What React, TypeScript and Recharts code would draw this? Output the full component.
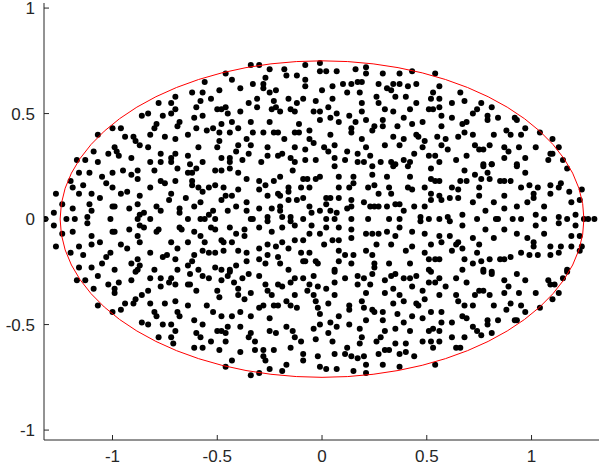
import { ScatterChart, Scatter, XAxis, YAxis, ReferenceDot } from "recharts";

// point positions in hundredths of an axis unit, grouped by region of the plot
const topFarLeft = [
  [-70,58],[-72,55],[-78,55],[-70,52],[-83,50],[-86,49],[-76,49],[-72,50],[-68,46],[-69,44],[-79,45],[-80,43],[-100,43],[-96,43],[-107,40],[-94,39],[-90,39],[-89,37],[-82,40],[-75,39],[-70,38],[-64,40],[-87,35],[-83,34],[-99,34],[-98,32],[-102,31],[-97,30],[-109,32],[-117,28],[-113,28],[-107,27],[-91,29],[-82,27],[-77,31],[-77,27],[-72,29],[-70,31],[-72,27],[-64,30],[-63,26],
];
const topCenterLeft = [
  [-34,73],[-30,73],[-25,71],[-18,71],[-17,68],[-12,68],[-8,73],[-1,74],[-1,70],[-8,66],[-8,63],[0,61],[-46,69],[-43,66],[-56,65],[-62,60],[-57,60],[-49,61],[-39,62],[-33,64],[-28,64],[-28,62],[-27,67],[-25,60],[-22,61],[-16,57],[-12,55],[-9,57],[-3,56],[-53,57],[-58,56],[-60,53],[-50,52],[-48,52],[-46,53],[-35,55],[-31,57],[-31,53],[-23,56],[-24,52],[-22,53],[-20,51],[-15,52],[-13,51],[-4,51],[-1,51],[-39,51],[-45,50],[-61,48],[-57,49],[-34,46],[-25,46],[-1,47],[-11,45],[-48,45],[-43,46],[-40,43],[-60,43],[-55,42],[-52,43],[-49,41],[-44,41],[-33,41],[-28,41],[-23,41],[-21,41],[-13,41],[-11,41],[-6,42],[-36,38],[-49,37],[-59,34],[-50,34],[-40,35],[-34,35],[-26,34],[-18,38],[-13,34],[-6,38],[-4,36],[-8,33],[-41,32],[-44,29],[-35,31],[-26,30],[-21,30],[-19,31],[-15,29],[-8,28],[-3,28],[-48,29],[-38,28],[-29,27],[-57,27],[-44,27],[-13,27],
];
const topCenterRight = [
  [2,70],[7,70],[16,71],[21,72],[21,69],[29,69],[37,69],[43,70],[54,69],[5,63],[10,64],[14,64],[17,65],[19,65],[27,64],[34,64],[37,64],[41,63],[45,64],[56,63],[12,60],[18,60],[31,62],[33,61],[40,58],[35,58],[26,58],[5,57],[19,55],[27,55],[45,55],[52,57],[56,57],[53,60],[62,55],[3,53],[19,51],[30,52],[34,51],[42,52],[51,52],[53,52],[56,53],[7,50],[4,48],[13,49],[21,47],[29,47],[39,48],[48,46],[57,49],[62,48],[8,46],[16,46],[25,44],[24,42],[29,44],[36,44],[43,45],[57,44],[14,43],[14,41],[4,40],[19,38],[34,39],[39,38],[45,40],[46,39],[49,37],[55,39],[59,38],[6,35],[21,34],[30,35],[37,35],[48,34],[57,35],[60,33],[3,32],[1,34],[12,32],[17,31],[23,30],[6,29],[11,28],[17,27],[20,27],[28,27],[33,27],[35,26],[39,28],[42,27],[44,31],[51,30],[54,30],[56,27],[64,28],
];
const topFarRight = [
  [66,60],[68,56],[76,55],[74,52],[72,50],[81,53],[79,49],[79,47],[84,48],[92,48],[93,47],[69,46],[67,45],[68,41],[65,39],[72,40],[82,40],[88,42],[90,40],[95,40],[97,43],[104,41],[110,38],[73,35],[75,33],[77,33],[80,35],[87,34],[89,32],[94,34],[102,34],[113,34],[109,31],[110,31],[69,30],[87,29],[97,29],[108,28],[115,28],[77,26],[81,26],[93,26],
];
const midLeft = [
  [-132,0],[-128,3],[-128,-3],[-127,12],[-127,-13],[-124,7],[-124,-7],[-122,0],[-118,0],[-120,18],[-119,15],[-120,-16],[-119,-6],[-119,5],[-116,22],[-116,12],[-114,16],[-116,-13],[-114,-17],[-111,22],[-110,12],[-111,7],[-112,1],[-112,-2],[-110,4],[-110,-8],[-110,-12],[-110,-23],[-116,-23],[-106,10],[-106,-11],[-105,20],[-103,17],[-103,-18],[-105,-21],[-100,22],[-100,15],[-101,0],[-100,6],[-99,6],[-100,-6],[-99,-6],[-101,-16],[-99,-24],[-96,12],[-93,13],[-95,23],[-96,-12],[-93,-14],[-92,5],[-92,-5],[-91,21],[-88,23],[-88,19],[-87,11],[-88,7],[-87,2],[-88,0],[-87,-3],[-88,-8],[-87,-11],[-88,-19],[-91,-21],[-88,-24],[-87,-22],[-85,3],[-85,-4],[-82,0],[-82,15],[-82,-16],[-80,23],[-79,6],[-77,4],[-78,-5],[-79,-6],[-80,-24],[-77,18],[-75,17],[-72,12],[-73,9],[-74,-17],[-76,-18],[-72,-11],[-70,18],[-70,-19],[-69,24],[-68,5],[-68,3],[-68,-4],[-67,-5],[-69,-14],[-69,-24],[-64,22],[-65,10],[-64,0],[-64,-11],[-64,-22],
];
const midCenterLeft = [
  [-60,24],[-62,22],[-62,18],[-62,16],[-59,15],[-57,13],[-54,15],[-51,16],[-47,15],[-51,23],[-48,23],[-44,24],[-40,22],[-36,19],[-40,14],[-30,18],[-27,16],[-30,14],[-23,18],[-20,20],[-14,23],[-9,19],[-7,19],[-3,19],[-1,20],[-16,15],[-16,13],[-10,15],[-6,15],[-26,11],[-21,12],[-20,11],[-12,9],[-9,10],[-16,9],[-46,11],[-43,11],[-48,9],[-58,8],[-61,6],[-41,6],[-36,8],[-30,5],[-24,5],[-20,6],[-20,4],[-6,6],[-1,4],[-9,0],[-5,3],[-52,4],[-54,2],[-56,0],[-58,0],[-51,0],[-45,4],[-36,4],[-34,0],[-33,0],[-26,1],[-26,-1],[-19,1],[-15,1],[-15,-1],[-44,-4],[-37,-5],[-30,-4],[-24,-6],[-19,-4],[-13,-3],[-5,-3],[-1,-7],[-61,-6],[-58,-8],[-53,-4],[-51,-5],[-56,-11],[-48,-10],[-47,-11],[-43,-11],[-41,-7],[-37,-8],[-30,-14],[-26,-12],[-22,-13],[-19,-11],[-16,-14],[-13,-10],[-9,-10],[-6,-7],[-57,-15],[-61,-17],[-54,-16],[-51,-16],[-47,-15],[-40,-15],[-36,-16],[-26,-17],[-21,-18],[-10,-16],[-6,-16],[-62,-20],[-59,-24],[-51,-23],[-48,-24],[-44,-24],[-41,-22],[-36,-20],[-30,-19],[-27,-21],[-20,-21],[-9,-20],[-8,-20],[-3,-20],[-2,-21],[-16,-24],
];
const midCenterRight = [
  [6,25],[24,25],[24,21],[34,25],[41,25],[52,24],[8,20],[15,20],[31,20],[42,20],[52,19],[54,18],[56,18],[8,15],[15,17],[13,15],[22,15],[25,16],[27,12],[32,15],[33,12],[41,15],[43,14],[49,15],[52,12],[56,11],[62,15],[65,14],[2,10],[4,10],[8,10],[14,9],[20,8],[23,6],[25,6],[27,6],[31,6],[35,7],[37,7],[39,4],[44,6],[49,6],[52,9],[57,9],[61,10],[2,7],[7,3],[14,6],[12,5],[4,4],[2,0],[6,0],[14,0],[22,0],[32,0],[37,0],[47,1],[47,-1],[51,0],[56,0],[60,1],[61,-1],[2,-4],[8,-4],[14,-5],[21,-7],[24,-7],[27,-7],[31,-6],[35,-8],[37,-4],[43,-6],[49,-7],[56,-8],[61,-8],[1,-12],[5,-10],[8,-10],[14,-9],[8,-15],[11,-17],[15,-17],[21,-15],[24,-17],[26,-12],[33,-12],[40,-15],[43,-13],[49,-16],[52,-12],[57,-11],[62,-15],[64,-12],[8,-20],[14,-21],[25,-21],[32,-21],[42,-21],[51,-19],[54,-19],[56,-19],[6,-24],[25,-23],[51,-24],
];
const midRight = [
  [68,23],[77,25],[79,22],[81,26],[93,25],[97,22],[117,24],[66,18],[69,18],[73,21],[76,19],[80,19],[85,18],[87,18],[90,18],[95,15],[99,16],[103,15],[109,16],[113,15],[114,17],[118,13],[124,14],[65,10],[75,15],[75,11],[72,8],[82,8],[87,11],[93,6],[98,8],[101,12],[101,10],[106,6],[109,12],[119,8],[123,9],[67,2],[74,0],[78,4],[83,0],[84,0],[87,5],[91,0],[95,0],[102,2],[106,0],[113,1],[113,-2],[117,0],[121,2],[121,-3],[125,0],[127,0],[130,0],[67,-3],[78,-5],[82,-9],[87,-5],[93,-7],[98,-9],[101,-11],[101,-13],[102,-3],[106,-7],[109,-13],[113,-16],[114,-13],[119,-8],[119,-13],[123,-8],[124,-13],[123,-15],[65,-11],[72,-9],[75,-12],[67,-14],[74,-16],[68,-19],[72,-21],[76,-20],[80,-19],[85,-19],[87,-19],[90,-18],[95,-16],[99,-17],[103,-17],[109,-17],[117,-24],[67,-24],[77,-24],[81,-25],
];
const botFarLeft = [
  [-117,-29],[-113,-29],[-107,-27],[-109,-33],[-102,-31],[-99,-33],[-99,-35],[-97,-30],[-91,-29],[-89,-25],[-82,-28],[-77,-28],[-72,-28],[-73,-30],[-70,-31],[-77,-32],[-83,-34],[-86,-36],[-89,-38],[-90,-40],[-94,-40],[-107,-41],[-100,-44],[-96,-43],[-82,-40],[-80,-44],[-79,-46],[-75,-40],[-70,-39],[-64,-41],[-69,-44],[-68,-46],[-86,-49],[-83,-50],[-76,-50],[-72,-50],[-70,-53],[-78,-56],[-72,-56],[-71,-59],[-64,-31],
];
const botCenterLeft = [
  [-63,-26],[-57,-27],[-54,-28],[-48,-29],[-45,-27],[-44,-25],[-42,-30],[-38,-28],[-35,-26],[-30,-27],[-27,-31],[-21,-31],[-19,-32],[-15,-30],[-13,-28],[-9,-28],[-4,-27],[-6,-31],[-2,-32],[-63,-31],[-60,-34],[-50,-34],[-49,-37],[-40,-33],[-40,-36],[-34,-35],[-26,-34],[-24,-36],[-17,-39],[-13,-36],[-7,-34],[-4,-36],[-3,-39],[-55,-41],[-52,-44],[-48,-46],[-43,-46],[-39,-44],[-37,-38],[-34,-46],[-30,-42],[-28,-41],[-23,-41],[-21,-41],[-15,-41],[-12,-42],[-2,-42],[-1,-45],[-25,-47],[-61,-48],[-57,-50],[-45,-51],[-39,-51],[-35,-56],[-34,-54],[-32,-58],[-25,-53],[-22,-54],[-17,-51],[-14,-53],[-13,-56],[-10,-58],[-4,-52],[-3,-57],[-1,-50],[-60,-54],[-58,-56],[-53,-58],[-50,-53],[-48,-53],[-46,-54],[-46,-58],[-61,-61],[-57,-61],[-49,-62],[-39,-63],[-32,-62],[-28,-62],[-28,-65],[-27,-67],[-23,-62],[-17,-69],[-15,-61],[-9,-64],[-9,-67],[-2,-65],[-43,-67],[-46,-70],[-34,-74],[-30,-73],[-25,-71],[-19,-72],[-1,-70],
];
const botCenterRight = [
  [6,-25],[11,-28],[17,-27],[20,-28],[24,-26],[30,-29],[33,-27],[35,-26],[39,-28],[42,-28],[45,-27],[52,-25],[56,-28],[51,-30],[54,-30],[59,-32],[2,-33],[6,-30],[17,-31],[23,-31],[34,-33],[43,-32],[48,-34],[6,-36],[21,-35],[30,-35],[37,-36],[39,-39],[49,-38],[56,-36],[64,-36],[3,-40],[13,-41],[13,-43],[19,-39],[20,-42],[24,-43],[25,-44],[29,-44],[34,-40],[45,-40],[46,-41],[8,-46],[4,-49],[7,-51],[13,-50],[21,-48],[29,-48],[36,-45],[39,-49],[43,-46],[48,-47],[52,-44],[57,-44],[57,-49],[62,-49],[3,-54],[5,-58],[12,-61],[18,-52],[19,-56],[30,-53],[35,-52],[42,-53],[51,-53],[53,-52],[56,-53],[18,-59],[26,-58],[28,-56],[35,-59],[40,-59],[48,-58],[52,-58],[56,-58],[62,-56],[6,-64],[11,-64],[14,-65],[17,-66],[20,-65],[27,-64],[30,-62],[32,-62],[37,-64],[40,-63],[44,-65],[53,-61],[64,-61],[2,-71],[7,-71],[15,-72],[21,-69],[21,-73],[29,-69],[37,-70],[54,-69],
];
const botFarRight = [
  [64,-28],[69,-30],[77,-25],[81,-26],[87,-29],[93,-26],[97,-29],[108,-29],[109,-31],[111,-31],[115,-28],[117,-25],[73,-36],[75,-34],[77,-34],[80,-36],[87,-35],[89,-32],[94,-35],[102,-35],[113,-35],[65,-39],[68,-41],[72,-41],[82,-41],[90,-40],[95,-41],[88,-43],[97,-44],[104,-42],[110,-38],[67,-46],[69,-47],[79,-48],[79,-50],[84,-48],[92,-48],[93,-48],[72,-51],[74,-53],[81,-54],[76,-55],[68,-56],[66,-61],
];

const ellipseCenter = [0, 0];
const ellipseRadii = [1.25, 0.75];
const xTicks = [-1, -0.5, 0, 0.5, 1];
const yTicks = [-1, -0.5, 0, 0.5, 1];
const xDomain = [-1.327, 1.322];
const yDomain = [-1.047, 1.024];

const regions = [
  topFarLeft, topCenterLeft, topCenterRight, topFarRight,
  midLeft, midCenterLeft, midCenterRight, midRight,
  botFarLeft, botCenterLeft, botCenterRight, botFarRight,
];
const points = regions.flat().map(([x, y]) => ({ x: x / 100, y: y / 100 }));

const W = 599;
const H = 466;
const margin = { top: 3, right: 0, left: 0, bottom: 0 };
const yAxisWidth = 44;
const xAxisHeight = 26;
const plotW = W - margin.left - margin.right - yAxisWidth;
const plotH = H - margin.top - margin.bottom - xAxisHeight;
const axisColor = "#262626";
const font = "'Liberation Sans', Arial, sans-serif";
const fontSize = 17;
const tickLen = 5;

function EllipseShape(props: any) {
  const rx = (ellipseRadii[0] * plotW) / (xDomain[1] - xDomain[0]);
  const ry = (ellipseRadii[1] * plotH) / (yDomain[1] - yDomain[0]);
  return (
    <ellipse cx={props.cx} cy={props.cy} rx={rx} ry={ry} fill="none" stroke="#ff0000" strokeWidth={1} />
  );
}

function Dot(props: any) {
  return <circle cx={props.cx} cy={props.cy} r={3} fill="#000000" />;
}

function XTick(props: any) {
  const { x, y, payload } = props;
  const axisY = margin.top + plotH;
  return (
    <g>
      <line x1={x} x2={x} y1={axisY} y2={axisY - tickLen} stroke={axisColor} />
      <text x={x} y={y + 2} dy="0.71em" textAnchor="middle" fill={axisColor} fontSize={fontSize} fontFamily={font}>
        {payload.value}
      </text>
    </g>
  );
}

function YTick(props: any) {
  const { x, y, payload } = props;
  const axisX = margin.left + yAxisWidth;
  return (
    <g>
      <line x1={axisX} x2={axisX + tickLen} y1={y} y2={y} stroke={axisColor} />
      <text x={x - 1} y={y} dy="0.355em" textAnchor="end" fill={axisColor} fontSize={fontSize} fontFamily={font}>
        {payload.value}
      </text>
    </g>
  );
}

export default function App() {
  return (
    <div style={{ position: "absolute", left: 0, top: 0, background: "#fff" }}>
      <ScatterChart width={W} height={H} margin={margin}>
        <XAxis
          type="number"
          dataKey="x"
          domain={xDomain}
          ticks={xTicks}
          allowDataOverflow
          height={xAxisHeight}
          stroke={axisColor}
          tickLine={false}
          tick={<XTick />}
          interval={0}
        />
        <YAxis
          type="number"
          dataKey="y"
          domain={yDomain}
          ticks={yTicks}
          allowDataOverflow
          width={yAxisWidth}
          stroke={axisColor}
          tickLine={false}
          tick={<YTick />}
          interval={0}
        />
        <Scatter data={points} shape={<Dot />} isAnimationActive={false} />
        <ReferenceDot x={ellipseCenter[0]} y={ellipseCenter[1]} shape={<EllipseShape />} />
      </ScatterChart>
    </div>
  );
}
